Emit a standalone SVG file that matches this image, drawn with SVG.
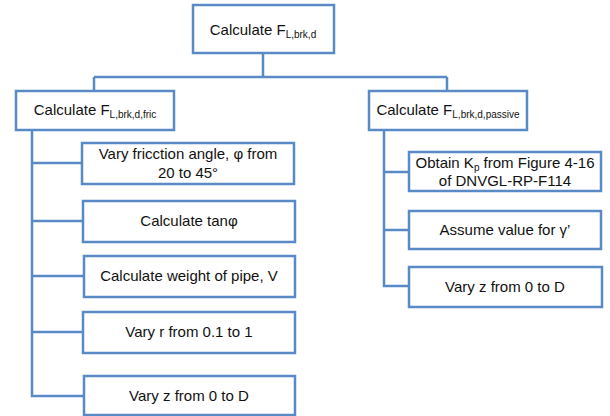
<svg xmlns="http://www.w3.org/2000/svg" width="610" height="416" viewBox="0 0 610 416">
<style>
.box{fill:#fff;stroke:#5a8ac6;stroke-width:2.5}
.ln{fill:none;stroke:#5a8ac6;stroke-width:2.5}
text{font-family:"Liberation Sans",Arial,sans-serif;font-size:15px;fill:#111;text-anchor:middle}
.sub{font-size:10px}
</style>
<rect width="610" height="416" fill="#fff"/>
<g id="connectors">
<path class="ln" d="M263 53V77M94 77H447M94 77V91M447 77V91"/>
<path class="ln" d="M32 130V396H84M32 163H82M32 221H83M32 276H84M32 332H83"/>
<path class="ln" d="M384 130V286H409M384 172H409M384 230H409"/>
</g>
<g id="top"><rect class="box" x="193" y="5" width="141" height="48"/><text x="263" y="35">Calculate F<tspan class="sub" dy="3">L,brk,d</tspan></text></g>
<g id="fric"><rect class="box" x="16" y="91" width="158" height="39"/><text x="95" y="115">Calculate F<tspan class="sub" dy="3">L,brk,d,fric</tspan></text></g>
<g id="passive"><rect class="box" x="369" y="91" width="158" height="39"/><text x="448" y="115">Calculate F<tspan class="sub" dy="3">L,brk,d,passive</tspan></text></g>
<g id="f1"><rect class="box" x="82" y="143" width="212" height="41"/><text x="188" y="159">Vary fricction angle, φ from</text><text x="188" y="178">20 to 45°</text></g>
<g id="f2"><rect class="box" x="83" y="201" width="212" height="41"/><text x="189" y="226">Calculate tanφ</text></g>
<g id="f3"><rect class="box" x="84" y="256" width="211" height="41"/><text x="189" y="281">Calculate weight of pipe, V</text></g>
<g id="f4"><rect class="box" x="83" y="312" width="212" height="41"/><text x="189" y="337">Vary r from 0.1 to 1</text></g>
<g id="f5"><rect class="box" x="84" y="376" width="211" height="39"/><text x="189" y="401">Vary z from 0 to D</text></g>
<g id="p1"><rect class="box" x="409" y="152" width="192" height="39"/><text x="505" y="168">Obtain K<tspan class="sub" dy="3">p</tspan><tspan dy="-3"> from Figure 4-16</tspan></text><text x="505" y="186">of DNVGL-RP-F114</text></g>
<g id="p2"><rect class="box" x="409" y="211" width="192" height="38"/><text x="505" y="235">Assume value for γ’</text></g>
<g id="p3"><rect class="box" x="409" y="267" width="193" height="40"/><text x="505" y="292">Vary z from 0 to D</text></g>
</svg>
